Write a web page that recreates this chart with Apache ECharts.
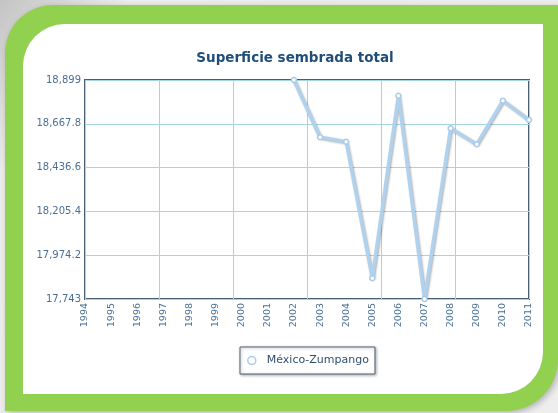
<!DOCTYPE html>
<html>
<head>
<meta charset="utf-8">
<style>html,body{margin:0;padding:0;background:#fff;}#c{width:558px;height:413px;}</style>
<script src="https://cdn.jsdelivr.net/npm/echarts@6/dist/echarts.min.js"></script>
</head>
<body>
<div id="c"></div>
<script>
const years = ['1994','1995','1996','1997','1998','1999','2000','2001','2002','2003','2004','2005','2006','2007','2008','2009','2010','2011'];
const seriesName = 'México-Zumpango';
const values = [null,null,null,null,null,null,null,null,18899,18597,18573,17853,18816,17743,18644,18560,18790,18688];
const yMin = 17743, yMax = 18899, yStep = 231.2;
const titleText = 'Superficie sembrada total';

const chart = echarts.init(document.getElementById('c'), null, {renderer:'canvas'});
const font = 'DejaVu Sans';
const gridCol = '#a3d6de';
chart.setOption({
  animation:false,
  backgroundColor: new echarts.graphic.LinearGradient(0,0,1,1,[{offset:0,color:'#c4c4c4'},{offset:0.15,color:'#ececec'},{offset:1,color:'#eeeeee'}]),
  graphic:[
    {type:'rect', z:-10, shape:{x:5,y:5,width:553,height:406,r:[48,0,52,0]}, style:{fill:'#92d050', shadowBlur:6, shadowColor:'rgba(0,0,0,0.25)', shadowOffsetX:2, shadowOffsetY:2}},
    {type:'rect', z:-9, shape:{x:23,y:24,width:520,height:370,r:[42,0,42,0]}, style:{fill:'#ffffff'}}
  ],
  title:{text:titleText, left:290, top:46, textAlign:'center',
    textStyle:{fontFamily:font, fontSize:13.5, fontWeight:'bold', color:'#1f4e79'}},
  legend:{data:[{name:seriesName, icon:'circle'}], left:240, top:347, orient:'horizontal',
    itemWidth:8, itemHeight:8, padding:[8,6,8,7], borderColor:'#4e6272', borderWidth:1,
    backgroundColor:'#fff', shadowBlur:3, shadowColor:'rgba(0,0,0,0.3)', shadowOffsetX:1, shadowOffsetY:1,
    itemStyle:{color:'#fff', borderColor:'#a9cbe9', borderWidth:1.5},
    textStyle:{fontFamily:font, fontSize:11, color:'#2f4f6f', padding:[0,0,0,6]}},
  grid:{left:85, right:29, top:80, bottom:114, show:true, borderColor:'#4a5f70', borderWidth:2, backgroundColor:'transparent', containLabel:false},
  xAxis:[
    {type:'category', data:years, boundaryGap:false,
      axisLine:{show:false}, axisTick:{show:false}, splitLine:{show:false},
      axisLabel:{rotate:90, interval:0, margin:4, fontFamily:font, fontSize:9.5, color:'#4a6f95'}},
    {type:'value', min:0, max:6, interval:1, position:'top', show:true,
      axisLine:{show:false}, axisTick:{show:false}, axisLabel:{show:false},
      splitLine:{show:true, lineStyle:{color:gridCol, width:1, opacity:1}}}
  ],
  yAxis:{type:'value', min:yMin, max:yMax, interval:yStep,
    axisLine:{show:false}, axisTick:{show:false},
    splitLine:{show:true, lineStyle:{color:gridCol, width:1, opacity:1}},
    axisLabel:{margin:4, fontFamily:font, fontSize:10, color:'#4a6f95',
      formatter:v=>{const r=Math.round(v*10)/10; return r.toLocaleString('en-US',{maximumFractionDigits:1});}}},
  series:[{name:seriesName, type:'line', data:values, xAxisIndex:0, connectNulls:false,
    symbol:'circle', symbolSize:5, showAllSymbol:true,
    itemStyle:{color:'#ffffff', borderColor:'#a9cbe9', borderWidth:1.5},
    lineStyle:{color:'#b0d2ef', width:3.5, shadowColor:'rgba(0,0,0,0.3)', shadowBlur:2, shadowOffsetX:1, shadowOffsetY:1},
    clip:false}]
});
</script>
</body>
</html>
